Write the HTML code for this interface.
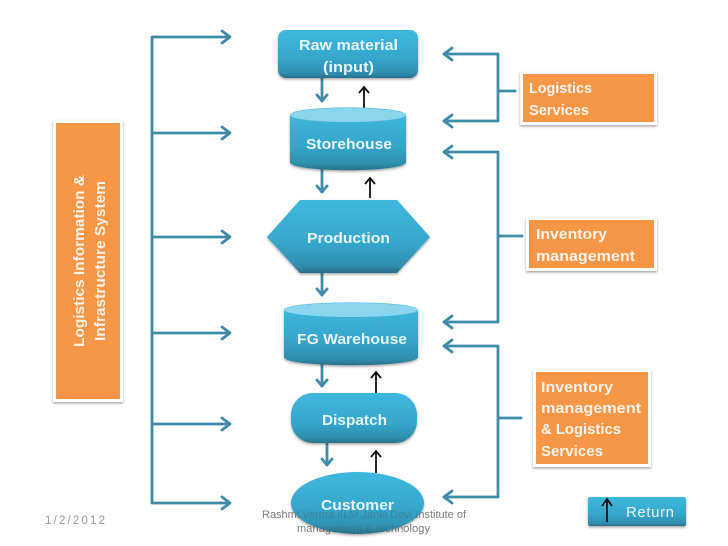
<!DOCTYPE html>
<html>
<head>
<meta charset="utf-8">
<style>
html,body{margin:0;padding:0;background:#fff;width:728px;height:546px;overflow:hidden}
svg{display:block}
text{font-family:"Liberation Sans",sans-serif}
.w{fill:#fff;font-weight:bold;font-size:15px;opacity:.9}
.t{fill:#e6f5fa;font-weight:bold;font-size:15px}
.g{fill:#999;font-size:11px}
.c{fill:none;stroke:#3f8ca8;stroke-width:2.8;stroke-linejoin:round;stroke-linecap:round}
.k{fill:none;stroke:#111;stroke-width:1.8}
</style>
</head>
<body>
<svg width="728" height="546" viewBox="0 0 728 546" xmlns="http://www.w3.org/2000/svg">
<defs>
<linearGradient id="b" x1="0" y1="0" x2="0" y2="1">
<stop offset="0" stop-color="#3fb8dd"/><stop offset=".6" stop-color="#36a6ca"/><stop offset=".9" stop-color="#2f8eae"/><stop offset="1" stop-color="#2a6f88"/>
</linearGradient>
<filter id="s" x="-10%" y="-10%" width="120%" height="125%"><feDropShadow dx="0" dy="1.5" stdDeviation="1.2" flood-color="#000" flood-opacity=".35"/></filter>
</defs>

<!-- left bracket -->
<path class="c" d="M229 37H152V503H229M152 133H229M152 237H229M152 333H229M152 424H229"/>
<path class="c" d="M222 31l8 6-8 6M222 127l8 6-8 6M222 231l8 6-8 6M222 327l8 6-8 6M222 418l8 6-8 6M222 497l8 6-8 6"/>

<!-- right brackets -->
<path class="c" d="M444 54H498V121H444M498 91H515"/>
<path class="c" d="M444 152H498V322H444M498 236H522"/>
<path class="c" d="M444 346H498V497H444M498 418H521"/>
<path class="c" d="M452 48l-8 6 8 6M452 115l-8 6 8 6M452 146l-8 6 8 6M452 316l-8 6 8 6M452 340l-8 6 8 6M452 491l-8 6 8 6"/>

<!-- orange boxes -->
<g filter="url(#s)">
<rect x="53" y="120" width="70" height="282" fill="#fff"/>
<rect x="520" y="71" width="137" height="54" fill="#fff"/>
<rect x="526" y="217" width="131" height="54" fill="#fff"/>
<rect x="533" y="369" width="118" height="98" fill="#fff"/>
</g>
<rect x="56" y="123" width="64" height="276" fill="#f79646"/>
<rect x="523" y="74" width="131" height="48" fill="#f79646"/>
<rect x="529" y="220" width="125" height="48" fill="#f79646"/>
<rect x="536" y="372" width="112" height="92" fill="#f79646"/>

<text class="w" transform="translate(84,347) rotate(-90)" textLength="172" lengthAdjust="spacingAndGlyphs">Logistics Information &amp;</text>
<text class="w" transform="translate(105,341) rotate(-90)" textLength="160" lengthAdjust="spacingAndGlyphs">Infrastructure System</text>
<text class="w" x="529" y="93" textLength="63" lengthAdjust="spacingAndGlyphs">Logistics</text>
<text class="w" x="529" y="115" textLength="60" lengthAdjust="spacingAndGlyphs">Services</text>
<text class="w" x="536" y="239" textLength="71" lengthAdjust="spacingAndGlyphs">Inventory</text>
<text class="w" x="536" y="261" textLength="99" lengthAdjust="spacingAndGlyphs">management</text>
<text class="w" x="541" y="392" textLength="72" lengthAdjust="spacingAndGlyphs">Inventory</text>
<text class="w" x="541" y="413" textLength="100" lengthAdjust="spacingAndGlyphs">management</text>
<text class="w" x="541" y="434" textLength="80" lengthAdjust="spacingAndGlyphs">&amp; Logistics</text>
<text class="w" x="541" y="456" textLength="62" lengthAdjust="spacingAndGlyphs">Services</text>

<!-- down arrows -->
<path class="c" d="M322 79V101M322 170V192M322 273V295M322 364V386M327 444V465"/>
<path class="c" d="M317 95l5 6 5-6M317 186l5 6 5-6M317 289l5 6 5-6M317 380l5 6 5-6M322 459l5 6 5-6"/>

<!-- up arrows -->
<path class="k" d="M364 109V87M359 93l5-6 5 6M370 198V178M365 184l5-6 5 6M376 394V372M371 378l5-6 5 6M376 473V451M371 457l5-6 5 6"/>

<!-- footer text behind customer -->
<text class="g" x="45" y="524" textLength="60" style="font-size:11.5px">1/2/2012</text>
<text class="g" x="262" y="518" textLength="204">Rashmi Verma IILM Janki Devi Institute of</text>
<text class="g" x="297" y="532" textLength="133">management &amp; technology</text>

<!-- nodes -->
<rect x="278" y="30" width="140" height="48" rx="8" fill="url(#b)" filter="url(#s)"/>
<text class="t" x="299" y="50" textLength="99" lengthAdjust="spacingAndGlyphs">Raw material</text>
<text class="t" x="323" y="72" textLength="51" lengthAdjust="spacingAndGlyphs">(input)</text>

<path d="M290 115C290 105 406 105 406 115V162C406 173 290 173 290 162Z" fill="url(#b)" filter="url(#s)"/>
<ellipse cx="348" cy="115" rx="58" ry="7" fill="#8bd6ee"/>
<text class="t" x="306" y="149" textLength="86" lengthAdjust="spacingAndGlyphs">Storehouse</text>

<polygon points="267,237 300,200 397,200 430,237 397,273 300,273" fill="url(#b)" filter="url(#s)"/>
<text class="t" x="307" y="243" textLength="83" lengthAdjust="spacingAndGlyphs">Production</text>

<path d="M284 310C284 300 418 300 418 310V357C418 368 284 368 284 357Z" fill="url(#b)" filter="url(#s)"/>
<ellipse cx="351" cy="310" rx="67" ry="7" fill="#8bd6ee"/>
<text class="t" x="297" y="344" textLength="110" lengthAdjust="spacingAndGlyphs">FG Warehouse</text>

<rect x="291" y="393" width="126" height="50" rx="22" fill="url(#b)" filter="url(#s)"/>
<text class="t" x="322" y="425" textLength="65" lengthAdjust="spacingAndGlyphs">Dispatch</text>

<ellipse cx="357.500" cy="503" rx="66.500" ry="31" fill="url(#b)" filter="url(#s)"/>
<text class="t" x="321" y="510" textLength="73" lengthAdjust="spacingAndGlyphs">Customer</text>
<g opacity=".28">
<text class="g" x="262" y="518" textLength="204" style="fill:#444">Rashmi Verma IILM Janki Devi Institute of</text>
<text class="g" x="297" y="532" textLength="133" style="fill:#444">management &amp; technology</text>
</g>

<!-- return -->
<rect x="588" y="497" width="98" height="29" rx="2" fill="url(#b)" filter="url(#s)"/>
<text x="626" y="517" fill="#e6f5fa" style="font-size:15px" textLength="48">Return</text>
<path class="k" d="M607 522V499M602 506l5-7 5 7"/>
</svg>
</body>
</html>
